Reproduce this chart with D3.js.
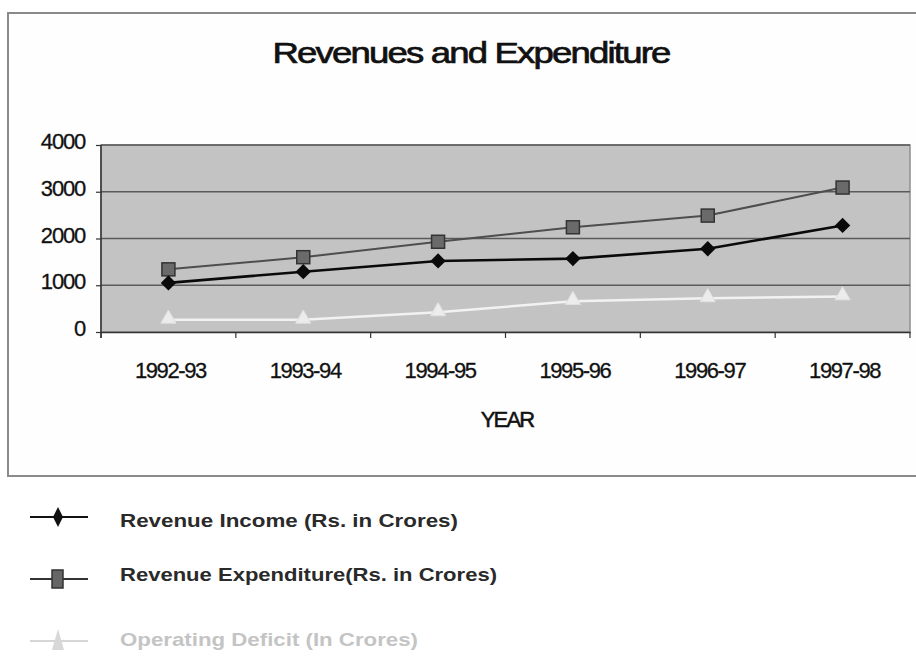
<!DOCTYPE html>
<html>
<head>
<meta charset="utf-8">
<script src="https://cdn.jsdelivr.net/npm/d3@7"></script>
<style>
  html, body { margin: 0; padding: 0; background: #ffffff; }
  svg { display: block; font-family: "Liberation Sans", Arial, sans-serif; }
</style>
</head>
<body>
<svg id="chart" width="916" height="669"></svg>
<script>
const categories = ["1992-93", "1993-94", "1994-95", "1995-96", "1996-97", "1997-98"];
const revenueIncome = [1050, 1290, 1520, 1570, 1780, 2280];
const revenueExpenditure = [1340, 1600, 1930, 2240, 2490, 3090];
const operatingDeficit = [260, 260, 420, 660, 720, 760];
const yTicks = [0, 1000, 2000, 3000, 4000];
const seriesNames = ["Revenue Income (Rs. in Crores)", "Revenue Expenditure(Rs. in Crores)", "Operating Deficit (In Crores)"];
const titleText = "Revenues and Expenditure";
const xTitle = "YEAR";

const svg = d3.select("#chart");
const plot = { left: 101, right: 910, top: 145, bottom: 332 };

// outer frame
svg.append("rect").attr("x", 8).attr("y", 13).attr("width", 930).attr("height", 463)
  .attr("fill", "#fefefe").attr("stroke", "#8a8a8a").attr("stroke-width", 2);

// title
svg.append("text").attr("x", 471).attr("y", 63).attr("text-anchor", "middle")
  .attr("font-size", 30).attr("fill", "#111").attr("stroke", "#111").attr("stroke-width", 0.7)
  .attr("letter-spacing", -1.5)
  .attr("textLength", 397).attr("lengthAdjust", "spacingAndGlyphs")
  .text(titleText);

const x = d3.scaleBand().domain(categories).range([plot.left, plot.right]).padding(0);
const y = d3.scaleLinear().domain([0, 4000]).range([plot.bottom, plot.top]);

// plot background
svg.append("rect").attr("x", plot.left).attr("y", plot.top)
  .attr("width", plot.right - plot.left).attr("height", plot.bottom - plot.top)
  .attr("fill", "#c3c3c3").attr("stroke", "#8f8f8f").attr("stroke-width", 1.5);

// gridlines
svg.append("g").selectAll("line").data(yTicks.filter(d => d > 0)).join("line")
  .attr("x1", plot.left).attr("x2", plot.right)
  .attr("y1", d => y(d)).attr("y2", d => y(d))
  .attr("stroke", "#5a5a5a").attr("stroke-width", 1.6);

// y axis
const yAxis = svg.append("g").attr("transform", `translate(${plot.left},0)`)
  .call(d3.axisLeft(y).tickValues(yTicks).tickSize(5).tickPadding(11).tickFormat(d3.format("d")));
yAxis.select(".domain").attr("stroke", "#333").attr("stroke-width", 1.5)
  .attr("d", `M0,${plot.top}V${plot.bottom + 6}`);
yAxis.selectAll(".tick line").attr("stroke", "#333").attr("stroke-width", 1.2);
yAxis.selectAll(".tick text").attr("font-size", 22).attr("fill", "#111")
  .attr("stroke", "#111").attr("stroke-width", 0.3)
  .attr("font-family", "Liberation Sans, Arial, sans-serif").attr("dy", "0.16em")
  .attr("letter-spacing", -1.2);

// x axis
const xAxis = svg.append("g").attr("transform", `translate(0,${plot.bottom})`)
  .call(d3.axisBottom(x).tickSize(0).tickPadding(30));
xAxis.select(".domain").attr("stroke", "#333").attr("stroke-width", 1.5);
xAxis.selectAll(".tick text").attr("font-size", 22).attr("fill", "#111")
  .attr("stroke", "#111").attr("stroke-width", 0.3)
  .attr("font-family", "Liberation Sans, Arial, sans-serif").attr("letter-spacing", -1.4)
  .attr("dx", 2);
const boundaries = categories.map(c => x(c)).concat([x(categories[categories.length - 1]) + x.bandwidth()]);
xAxis.selectAll(".bnd").data(boundaries).join("line").attr("class", "bnd")
  .attr("x1", d => d).attr("x2", d => d).attr("y1", 0).attr("y2", 6)
  .attr("stroke", "#333").attr("stroke-width", 1.2);

// x title
svg.append("text").attr("x", 507).attr("y", 427).attr("text-anchor", "middle")
  .attr("font-size", 22).attr("letter-spacing", -1.8).attr("fill", "#111")
  .attr("stroke", "#111").attr("stroke-width", 0.5).text(xTitle);

// series
const line = d3.line().x((d, i) => x(categories[i]) + x.bandwidth() / 2).y(d => y(d));
const cx = i => x(categories[i]) + x.bandwidth() / 2;

// deficit
svg.append("path").datum(operatingDeficit).attr("d", line).attr("fill", "none")
  .attr("stroke", "#f2f2f2").attr("stroke-width", 2.5);
svg.append("g").selectAll("path").data(operatingDeficit).join("path")
  .attr("transform", (d, i) => `translate(${cx(i)},${y(d) - 1})`)
  .attr("d", d3.symbol(d3.symbolTriangle, 100)())
  .attr("fill", "#ececec").attr("stroke", "#e0e0e0").attr("stroke-width", 1);

// expenditure
svg.append("path").datum(revenueExpenditure).attr("d", line).attr("fill", "none")
  .attr("stroke", "#4e4e4e").attr("stroke-width", 2);
svg.append("g").selectAll("rect").data(revenueExpenditure).join("rect")
  .attr("x", (d, i) => cx(i) - 6.5).attr("y", d => y(d) - 6.5)
  .attr("width", 13).attr("height", 13)
  .attr("fill", "#6a6a6a").attr("stroke", "#333").attr("stroke-width", 1.5);

// income
svg.append("path").datum(revenueIncome).attr("d", line).attr("fill", "none")
  .attr("stroke", "#0a0a0a").attr("stroke-width", 2.6);
svg.append("g").selectAll("path").data(revenueIncome).join("path")
  .attr("transform", (d, i) => `translate(${cx(i)},${y(d)})`)
  .attr("d", d3.symbol(d3.symbolDiamond2, 150)())
  .attr("fill", "#0a0a0a");

// legend
const legend = svg.append("g");
const legendItems = [
  { name: seriesNames[0], ly: 517, ty: 527, tl: 338, color: "#2a2a2a", lineColor: "#111", kind: "diamond" },
  { name: seriesNames[1], ly: 579, ty: 581, tl: 377, color: "#2a2a2a", lineColor: "#333", kind: "square" },
  { name: seriesNames[2], ly: 641, ty: 646, tl: 298, color: "#c4c4c4", lineColor: "#d6d6d6", kind: "triangle" }
];
legendItems.forEach(it => {
  legend.append("line").attr("x1", 30).attr("x2", 88).attr("y1", it.ly).attr("y2", it.ly)
    .attr("stroke", it.lineColor).attr("stroke-width", 2.2);
  if (it.kind === "diamond") {
    legend.append("path").attr("d", `M58,${it.ly - 10}L63,${it.ly}L58,${it.ly + 10}L53,${it.ly}Z`).attr("fill", "#111");
  } else if (it.kind === "square") {
    legend.append("rect").attr("x", 52).attr("y", it.ly - 9).attr("width", 11).attr("height", 18)
      .attr("fill", "#666").attr("stroke", "#333").attr("stroke-width", 1.5);
  } else {
    legend.append("path").attr("d", `M58,${it.ly - 12}L64,${it.ly + 9}L52,${it.ly + 9}Z`).attr("fill", "#d8d8d8");
  }
  legend.append("text").attr("x", 120).attr("y", it.ty).attr("font-size", 19).attr("font-weight", "bold")
    .attr("fill", it.color).attr("textLength", it.tl).attr("lengthAdjust", "spacingAndGlyphs").text(it.name);
});
</script>
</body>
</html>
